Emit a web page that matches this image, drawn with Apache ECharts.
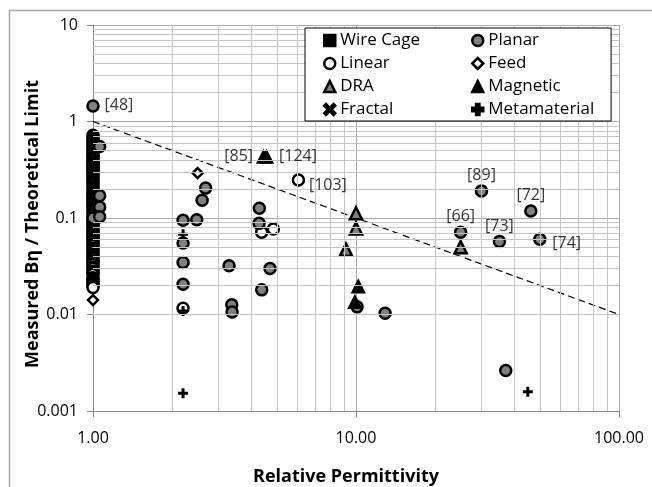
<!DOCTYPE html>
<html>
<head>
<meta charset="utf-8">
<script src="https://cdn.jsdelivr.net/npm/echarts@6/dist/echarts.min.js"></script>
<style>
html,body{margin:0;padding:0;background:#fff;}
#chart{width:652px;height:487px;}
</style>
</head>
<body>
<div id="chart"></div>
<script>
// ---------------- data ----------------
const wireCageX = [1.0];
const wireCageY = [0.35];

// Planar: x = 1 column (dense, read top to bottom), then the rest
const planarX = [1.0,
  1.0, 1.0, 1.0, 1.0, 1.0, 1.0, 1.0, 1.0, 1.0, 1.0, 1.0, 1.0, 1.0, 1.0,
  1.0, 1.0, 1.0, 1.0, 1.0, 1.0, 1.0, 1.0, 1.0, 1.0, 1.0, 1.0, 1.0, 1.0,
  1.0, 1.0, 1.0, 1.0, 1.0, 1.0, 1.0, 1.0, 1.0, 1.0, 1.0, 1.0, 1.0, 1.0,
  1.06, 1.06, 1.06, 1.06,
  2.2, 2.48, 2.68, 2.6, 2.2, 2.2, 2.2,
  3.29, 3.37, 3.38,
  4.29, 4.28, 4.71, 4.38,
  10.1, 12.9,
  30.0, 46.2, 25.0, 35.1, 50.0, 37.1];
const planarY = [1.45,
  0.72, 0.69, 0.66, 0.63, 0.60, 0.57, 0.545, 0.52, 0.495, 0.47, 0.45, 0.43, 0.41, 0.39,
  0.37, 0.355, 0.34, 0.325, 0.31, 0.295, 0.28, 0.268, 0.255, 0.243, 0.232, 0.221, 0.21, 0.20,
  0.19, 0.181, 0.172, 0.164, 0.156, 0.149, 0.142, 0.135, 0.128, 0.122, 0.116, 0.11, 0.105, 0.10,
  0.55, 0.17, 0.13, 0.103,
  0.095, 0.096, 0.204, 0.153, 0.055, 0.0345, 0.0206,
  0.032, 0.0126, 0.0106,
  0.126, 0.088, 0.030, 0.018,
  0.012, 0.0103,
  0.191, 0.118, 0.0713, 0.057, 0.0603, 0.00263];

const linearX = [1.0, 1.0, 1.0, 1.0, 1.0, 1.0, 1.0, 1.0, 1.0, 1.0, 1.0, 1.0, 1.0, 1.0, 1.0, 1.0, 1.0,
  1.0, 1.0, 1.0, 1.0, 1.0, 1.0, 1.0, 1.0, 1.0, 1.0, 1.0, 1.0, 1.0, 1.0, 1.0, 1.0, 1.0,
  2.2, 4.38, 4.85, 6.04];
const linearY = [0.098, 0.093, 0.089, 0.085, 0.081, 0.077, 0.073, 0.070, 0.066, 0.063, 0.060, 0.057, 0.054, 0.052, 0.049, 0.047, 0.045,
  0.042, 0.040, 0.038, 0.036, 0.035, 0.033, 0.031, 0.030, 0.028, 0.027, 0.026, 0.024, 0.023, 0.022, 0.021, 0.020, 0.019,
  0.0116, 0.0713, 0.077, 0.248];

const feedX = [1.0, 2.5];
const feedY = [0.0141, 0.292];

const draX = [10.0, 10.0, 9.16, 25.0];
const draY = [0.112, 0.078, 0.047, 0.0499];

const magneticX = [4.45, 4.57, 10.2, 9.9];
const magneticY = [0.43, 0.43, 0.0195, 0.0135];

const fractalX = [1.0];
const fractalY = [0.2];

const metaX = [2.2, 2.2, 2.2, 45.0];
const metaY = [0.068, 0.0109, 0.00153, 0.00158];

// theoretical limit (dashed)
const limitX = [1, 100];
const limitY = [1, 0.01];

// reference tags
const tagText = ['[48]', '[85]', '[124]', '[103]', '[89]', '[72]', '[66]', '[73]', '[74]'];
const tagX = [1.0, 4.45, 4.57, 6.04, 30.0, 46.2, 25.0, 35.1, 50.0];
const tagY = [1.45, 0.43, 0.43, 0.248, 0.191, 0.118, 0.0713, 0.057, 0.0603];

// legend columns
const legendCol1 = ['Wire Cage', 'Linear', 'DRA', 'Fractal'];
const legendCol2 = ['Planar', 'Feed', 'Magnetic', 'Metamaterial'];

// axis ticks
const xMinor = [2, 3, 4, 5, 6, 7, 8, 9, 20, 30, 40, 50, 60, 70, 80, 90];
const yMinor = [0.002, 0.003, 0.004, 0.005, 0.006, 0.007, 0.008, 0.009,
  0.02, 0.03, 0.04, 0.05, 0.06, 0.07, 0.08, 0.09,
  0.2, 0.3, 0.4, 0.5, 0.6, 0.7, 0.8, 0.9,
  2, 3, 4, 5, 6, 7, 8, 9];

// ---------------- build ----------------
const FONT = 'Open Sans';
const zip = (xs, ys) => xs.map((x, i) => [x, ys[i]]);

const tagStyle = {
  '[48]':  { position: 'right', distance: 5 },
  '[85]':  { position: 'left', distance: 4 },
  '[124]': { position: 'right', distance: 6 },
  '[103]': { position: 'right', distance: 4, offset: [0, 6] },
  '[89]':  { position: 'top', distance: 1 },
  '[72]':  { position: 'top', distance: 1 },
  '[66]':  { position: 'top', distance: 1 },
  '[73]':  { position: 'top', distance: 1 },
  '[74]':  { position: 'right', distance: 6, offset: [0, 4] }
};

const plus = 'path://M3.5,0H6.5V3.5H10V6.5H6.5V10H3.5V6.5H0V3.5H3.5Z';
const cross = 'path://M1.5,0L5,3.5L8.5,0L10,1.5L6.5,5L10,8.5L8.5,10L5,6.5L1.5,10L0,8.5L3.5,5L0,1.5Z';

function sc(name, xs, ys, symbol, size, fill, bw) {
  return {
    name, type: 'scatter', data: zip(xs, ys), symbol, symbolSize: size,
    itemStyle: { color: fill, borderColor: '#000', borderWidth: bw, opacity: 1 },
    emphasis: { disabled: true }, z: 3, large: false, progressive: 0
  };
}

const legendText = { fontFamily: FONT, fontSize: 17, color: '#000' };
const legendItem = { borderWidth: 2.5, borderColor: '#000' };

const chart = echarts.init(document.getElementById('chart'), null, { renderer: 'canvas' });

const option = {
  animation: false,
  backgroundColor: '#fff',
  grid: { left: 93, top: 25, width: 526, height: 386, containLabel: false },
  xAxis: {
    type: 'log', logBase: 10, min: 1, max: 100,
    axisLine: { show: true, lineStyle: { color: '#868686', width: 1 } },
    axisTick: { show: true, length: 6, lineStyle: { color: '#868686' } },
    axisLabel: { margin: 19, fontFamily: FONT, fontSize: 16, color: '#000',
      formatter: v => Number(v).toFixed(2) },
    splitLine: { show: true, lineStyle: { color: '#a8a8a8', width: 1 } },
    minorTick: { show: false }, minorSplitLine: { show: false }
  },
  yAxis: {
    type: 'log', logBase: 10, min: 0.001, max: 10,
    axisLine: { show: true, lineStyle: { color: '#868686', width: 1 } },
    axisTick: { show: true, length: 6, lineStyle: { color: '#868686' } },
    axisLabel: { margin: 15, fontFamily: FONT, fontSize: 16, color: '#000',
      formatter: v => String(Number(Number(v).toPrecision(6))) },
    splitLine: { show: true, lineStyle: { color: '#a8a8a8', width: 1 } },
    minorTick: { show: false }, minorSplitLine: { show: false }
  },
  legend: [
    {
      z: 50,
      left: 305, top: 28, orient: 'vertical',
      padding: [4, 191, 3, 18],
      itemWidth: 11, itemHeight: 11, itemGap: 6,
      backgroundColor: '#ffffff', borderColor: '#000', borderWidth: 1,
      textStyle: legendText, itemStyle: legendItem,
      data: legendCol1
    },
    {
      z: 51,
      left: 471, top: 32, orient: 'vertical',
      padding: 0,
      itemWidth: 11, itemHeight: 11, itemGap: 6,
      textStyle: legendText, itemStyle: legendItem,
      data: legendCol2
    }
  ],
  graphic: [
    { type: 'rect', silent: true,
      shape: { x: 9.5, y: 10.5, width: 700, height: 600 },
      style: { fill: 'none', stroke: '#a6a6a6', lineWidth: 1.5 } },
    { type: 'text', x: 346, y: 477, silent: true,
      style: { text: 'Relative Permittivity', fontFamily: FONT, fontSize: 18, fontWeight: 'bold',
        fill: '#000', align: 'center', verticalAlign: 'middle' } },
    { type: 'text', x: 33, y: 224, rotation: Math.PI / 2, silent: true,
      style: { text: 'Measured Bη / Theoretical Limit', fontFamily: FONT, fontSize: 18, fontWeight: 'bold',
        fill: '#000', align: 'center', verticalAlign: 'middle' } }
  ],
  series: [
    {
      name: '_minor', type: 'line', data: [[1, 1]], symbol: 'none', z: 1,
      lineStyle: { opacity: 0 }, silent: true,
      markLine: {
        silent: true, symbol: ['none', 'none'], animation: false,
        label: { show: false },
        emphasis: { disabled: true },
        lineStyle: { color: '#c4c4c4', type: 'solid', width: 1 },
        data: xMinor.map(v => ({ xAxis: v })).concat(yMinor.map(v => ({ yAxis: v })))
      }
    },
    {
      name: '_limit', type: 'line', data: zip(limitX, limitY), symbol: 'none', z: 2, silent: true,
      lineStyle: { color: '#000', width: 1.2, type: [7, 4] }
    },
    sc('Wire Cage', wireCageX, wireCageY, 'rect', 11, '#000', 2),
    sc('Linear', linearX, linearY, 'circle', 11, '#fff', 2.5),
    sc('DRA', draX, draY, 'triangle', 12, '#808080', 2.5),
    sc('Fractal', fractalX, fractalY, cross, 10, '#000', 0),
    sc('Planar', planarX, planarY, 'circle', 11, '#808080', 2.5),
    sc('Feed', feedX, feedY, 'diamond', 10, '#fff', 2.5),
    sc('Magnetic', magneticX, magneticY, 'triangle', 12, '#000', 2),
    sc('Metamaterial', metaX, metaY, plus, 10, '#000', 0),
    {
      name: '_tags', type: 'scatter', z: 5, silent: true,
      symbol: 'circle', symbolSize: 13,
      itemStyle: { color: 'rgba(0,0,0,0)' },
      data: tagText.map((t, i) => ({
        value: [tagX[i], tagY[i]],
        label: Object.assign({ show: true, formatter: t, fontFamily: FONT, fontSize: 16, color: '#000' }, tagStyle[t])
      }))
    }
  ]
};

chart.setOption(option);
</script>
</body>
</html>
